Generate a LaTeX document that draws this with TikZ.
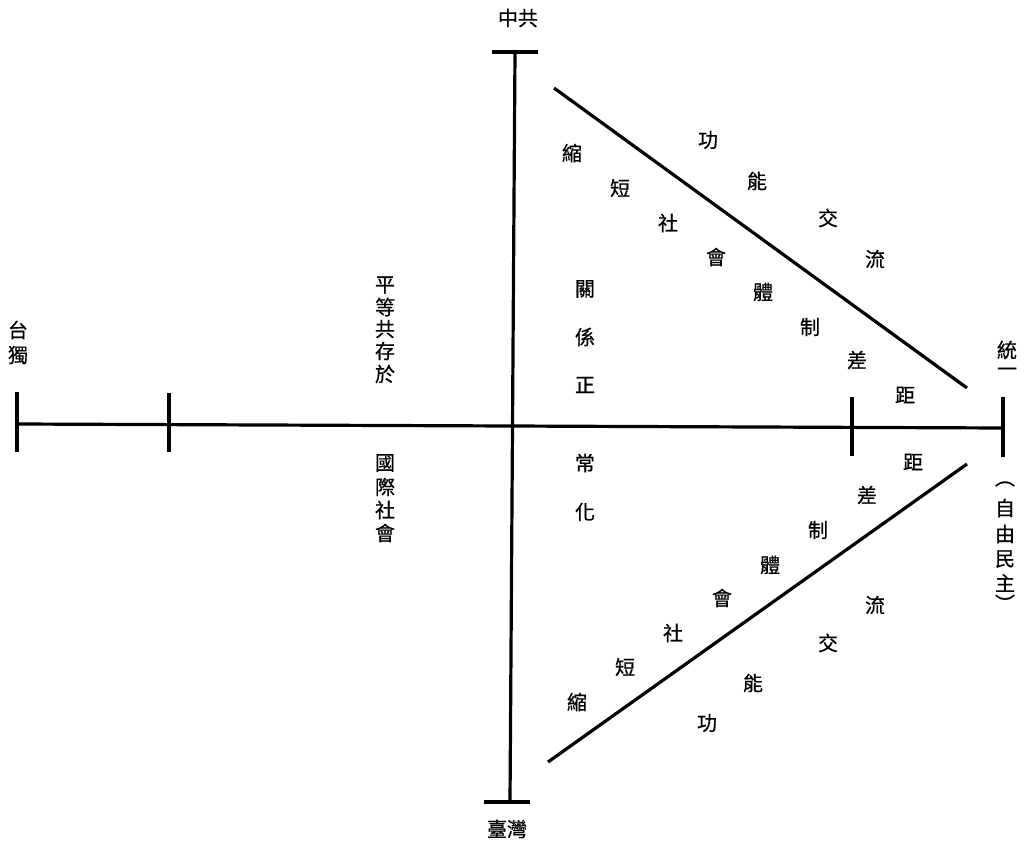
\documentclass[tikz,border=0pt]{standalone}
\usepackage{fontspec}
\newfontfamily\cjk[FakeBold=0.6]{Noto Sans CJK TC}
\tikzset{
  ln/.style={line width=3.2pt, line cap=butt},
  ch/.style={inner sep=0pt, font=\cjk\fontsize{20}{20}\selectfont},
}
\begin{document}
\begin{tikzpicture}[x=1pt,y=-1pt]
\useasboundingbox (0,0) rectangle (1026,842);
% axis coordinates
\coordinate (L) at (17,424);
\coordinate (R) at (1003,428);
\coordinate (T) at (515,52);
\coordinate (B) at (510,802);
\coordinate (Tl) at (492,52);
\coordinate (Tr) at (538,52);
\coordinate (Bl) at (484,802);
\coordinate (Br) at (530,802);
\coordinate (t1a) at (17,392);  \coordinate (t1b) at (17,452);
\coordinate (t2a) at (169,393); \coordinate (t2b) at (169,452);
\coordinate (t3a) at (852,397); \coordinate (t3b) at (852,456);
\coordinate (t4a) at (1003,397);\coordinate (t4b) at (1003,457);
\coordinate (U1) at (554,88);   \coordinate (U2) at (967,388);
\coordinate (D1) at (548,762);  \coordinate (D2) at (967,464);
\draw[ln] (L) -- (R);
\draw[ln] (T) -- (B);
\draw[ln] (Tl) -- (Tr);
\draw[ln] (Bl) -- (Br);
\draw[ln] (t1a) -- (t1b);
\draw[ln] (t2a) -- (t2b);
\draw[ln] (t3a) -- (t3b);
\draw[ln] (t4a) -- (t4b);
\draw[ln] (U1) -- (U2);
\draw[ln] (D1) -- (D2);
% labels
\node[ch] (zg) at (518,18) {中共};
\node[ch] (tw) at (507,829) {臺灣};
\node[ch] (td1) at (18,330) {台};
\node[ch] (td2) at (18,355) {獨};
\node[ch] (ty1) at (1007,350) {統};
\node[ch] (ty2) at (1007,372) {一};
\node[ch] (p0) at (1005,484) {︵};
\node[ch] (p1) at (1005,508) {自};
\node[ch] (p2) at (1005,534) {由};
\node[ch] (p3) at (1005,559) {民};
\node[ch] (p4) at (1005,583) {主};
\node[ch] (p5) at (1005,603) {︶};
\node[ch] (a1) at (385,285) {平};
\node[ch] (a2) at (385,307) {等};
\node[ch] (a3) at (385,329) {共};
\node[ch] (a4) at (385,351) {存};
\node[ch] (a5) at (385,374) {於};
\node[ch] (b1) at (385,463) {國};
\node[ch] (b2) at (385,487) {際};
\node[ch] (b3) at (385,510) {社};
\node[ch] (b4) at (385,533) {會};
\node[ch] (c1) at (585,289) {關};
\node[ch] (c2) at (585,337) {係};
\node[ch] (c3) at (585,385) {正};
\node[ch] (c4) at (585,463) {常};
\node[ch] (c5) at (585,512) {化};
% upper triangle
\node[ch] (u1) at (708,140) {功};
\node[ch] (u2) at (757,181) {能};
\node[ch] (u3) at (828,218) {交};
\node[ch] (u4) at (875,259) {流};
\node[ch] (v1) at (572,153) {縮};
\node[ch] (v2) at (620,188) {短};
\node[ch] (v3) at (668,223) {社};
\node[ch] (v4) at (716,257) {會};
\node[ch] (v5) at (763,292) {體};
\node[ch] (v6) at (810,327) {制};
\node[ch] (v7) at (857,360) {差};
\node[ch] (v8) at (905,395) {距};
% lower triangle
\node[ch] (w8) at (913,462) {距};
\node[ch] (w7) at (867,495) {差};
\node[ch] (w6) at (818,530) {制};
\node[ch] (w5) at (770,565) {體};
\node[ch] (w4) at (722,598) {會};
\node[ch] (w3) at (673,633) {社};
\node[ch] (w2) at (625,667) {短};
\node[ch] (w1) at (577,702) {縮};
\node[ch] (x4) at (875,605) {流};
\node[ch] (x3) at (828,643) {交};
\node[ch] (x2) at (753,683) {能};
\node[ch] (x1) at (707,723) {功};
\end{tikzpicture}
\end{document}
